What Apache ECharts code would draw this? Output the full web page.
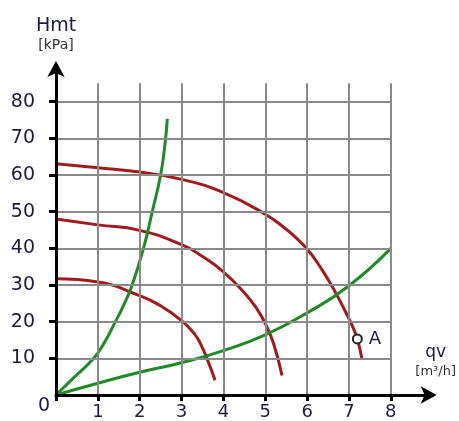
<!DOCTYPE html>
<html><head><meta charset="utf-8">
<script src="https://cdn.jsdelivr.net/npm/echarts@6/dist/echarts.min.js"></script>
<style>html,body{margin:0;padding:0;background:#fff}#c{width:459px;height:421px}</style>
</head><body><div id="c"></div>
<script>
// Data
var xTicks = [1, 2, 3, 4, 5, 6, 7, 8];
var yTicks = [10, 20, 30, 40, 50, 60, 70, 80];
var gridTopH = 85;
var steepQ = [0, 0.45, 0.9, 1.15, 1.42, 1.62, 1.82, 2.09, 2.3, 2.5, 2.6, 2.66];
var steepH = [0, 5, 10, 14.2, 20, 24.6, 30, 40, 50, 60, 68, 75.3];
var shallowQ = [0, 1, 2, 3, 4, 5, 6, 7, 8];
var shallowH = [0, 3.2, 6.2, 8.8, 12.1, 16.4, 22.4, 29.8, 40];
var pump1Q = [0, 1, 2, 3, 4, 5, 5.5, 5.75, 6, 6.25, 6.5, 6.7, 7, 7.1, 7.2, 7.31];
var pump1H = [63.1, 62, 60.8, 58.8, 55.2, 49.3, 45.2, 42.7, 39.8, 36, 31.5, 27.5, 20.8, 18.3, 15.3, 9.8];
var pump2Q = [0, 1, 2, 3, 3.5, 4, 4.5, 4.8, 5, 5.2, 5.4];
var pump2H = [48, 46.4, 44.9, 41, 37.8, 33.6, 27.9, 23.5, 19.5, 14, 5.3];
var pump3Q = [0, 1, 2, 2.5, 3, 3.3, 3.45, 3.6, 3.8];
var pump3H = [31.7, 30.8, 27.1, 24.3, 20.3, 16.8, 14, 10.2, 4];
var pointA = [7.2, 15.3];

function zip(a, b) { return a.map(function (v, i) { return [v, b[i]]; }); }

var gridLines = [];
xTicks.forEach(function (q) { gridLines.push([{ coord: [q, 0] }, { coord: [q, gridTopH] }]); });
yTicks.forEach(function (h) { gridLines.push([{ coord: [0, h] }, { coord: [xTicks[xTicks.length - 1], h] }]); });

var textColor = '#1c1c40';
var red = '#a01c1c';
var green = '#1f8a26';
var font = 'DejaVu Sans';

function curve(data, color, z) {
  return { type: 'line', data: data, smooth: 0.5, showSymbol: false,
    lineStyle: { color: color, width: 3 }, z: z, silent: true };
}

var chart = echarts.init(document.getElementById('c'));
chart.setOption({
  animation: false,
  grid: { left: 56, right: 26, top: 65, bottom: 25 },
  xAxis: {
    type: 'value', min: 0, max: 9, interval: 1, z: 5,
    name: '{a|qv}\n{b|[m³/h]}',
    nameLocation: 'end', nameGap: 3,
    nameTextStyle: {
      align: 'center', verticalAlign: 'bottom', padding: [0, 0, 15, 0],
      rich: {
        a: { fontFamily: font, fontSize: 17, color: textColor, lineHeight: 22, align: 'center' },
        b: { fontFamily: font, fontSize: 13, color: '#333', lineHeight: 16, align: 'center' }
      }
    },
    axisLine: { lineStyle: { color: '#000', width: 3 }, symbol: ['none', 'arrow'], symbolSize: [13, 16], symbolOffset: [0, 4] },
    axisTick: { show: true, length: 6, lineStyle: { color: '#000', width: 3 }, customValues: [0].concat(xTicks) },
    axisLabel: { customValues: xTicks, fontFamily: font, fontSize: 18, color: textColor, margin: 8 },
    splitLine: { show: false }
  },
  yAxis: {
    type: 'value', min: 0, max: 90, interval: 10, z: 5,
    name: '{a|Hmt}\n{b|[kPa]}',
    nameLocation: 'end', nameGap: 12,
    nameTextStyle: {
      align: 'center', verticalAlign: 'bottom',
      rich: {
        a: { fontFamily: font, fontSize: 19, color: textColor, lineHeight: 22, align: 'center' },
        b: { fontFamily: font, fontSize: 14, color: '#333', lineHeight: 16, align: 'center' }
      }
    },
    axisLine: { lineStyle: { color: '#000', width: 3 }, symbol: ['none', 'arrow'], symbolSize: [13, 16], symbolOffset: [0, 4] },
    axisTick: { show: true, length: 7, lineStyle: { color: '#000', width: 3 }, customValues: yTicks },
    axisLabel: { customValues: yTicks, fontFamily: font, fontSize: 19, color: textColor, margin: 21 },
    splitLine: { show: false }
  },
  graphic: [{
    type: 'text', left: 38, top: 397,
    style: { text: '0', fontFamily: font, fontSize: 19, fill: textColor }
  }],
  series: [
    {
      type: 'line', data: [], z: 1, silent: true,
      markLine: { silent: true, symbol: 'none', label: { show: false },
        lineStyle: { color: '#8a8a8a', width: 2, type: 'solid' }, data: gridLines }
    },
    curve(zip(pump1Q, pump1H), red, 3),
    curve(zip(pump2Q, pump2H), red, 3),
    curve(zip(pump3Q, pump3H), red, 3),
    curve(zip(steepQ, steepH), green, 4),
    curve(zip(shallowQ, shallowH), green, 4),
    {
      type: 'scatter', data: [pointA], symbol: 'circle', symbolSize: 9, z: 6, silent: true,
      itemStyle: { color: '#ffffff', borderColor: '#222', borderWidth: 2, opacity: 1 },
      label: { show: true, position: 'right', distance: 6, formatter: 'A', fontFamily: font, fontSize: 18, color: textColor, opacity: 1 }
    }
  ]
});
</script></body></html>
